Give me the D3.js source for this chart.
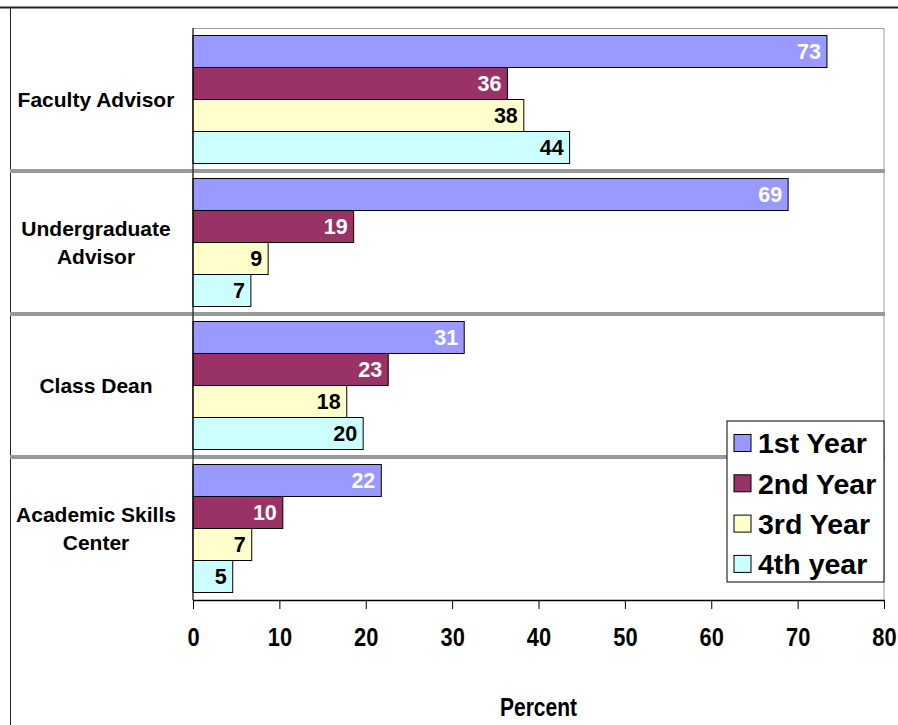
<!DOCTYPE html>
<html>
<head>
<meta charset="utf-8">
<script src="https://cdn.jsdelivr.net/npm/d3@7"></script>
<style>
  body { margin: 0; background: #fff; }
  svg { display: block; font-family: "Liberation Sans", Arial, sans-serif; font-weight: bold; }
</style>
</head>
<body>
<svg id="chart" width="898" height="725"></svg>
<script>
// data
const categories = ["Faculty Advisor", "Undergraduate Advisor", "Class Dean", "Academic Skills Center"];
const catLines = [["Faculty Advisor"], ["Undergraduate", "Advisor"], ["Class Dean"], ["Academic Skills", "Center"]];
const seriesNames = ["1st Year", "2nd Year", "3rd Year", "4th year"];
const year1 = [73.4, 68.9, 31.4, 21.8];
const year2 = [36.4, 18.6, 22.6, 10.4];
const year3 = [38.3, 8.7, 17.8, 6.8];
const year4 = [43.6, 6.7, 19.7, 4.6];
const xTicks = [0, 10, 20, 30, 40, 50, 60, 70, 80];

const colors = ["#9999ff", "#993366", "#ffffcc", "#ccffff"];
const labelColors = ["#fff", "#fff", "#000", "#000"];
const allSeries = [year1, year2, year3, year4];

const svg = d3.select("#chart");

const plotL = 193, plotR = 884, plotT = 28, plotB = 600;

const x = d3.scaleLinear().domain([0, 80]).range([plotL, plotR]);
const y = d3.scaleBand().domain(categories).range([plotT, plotB]).padding(0);
const ys = d3.scaleBand().domain(seriesNames).range([0, y.bandwidth()]).paddingInner(0).paddingOuter(0.234);

// outer frame lines
svg.append("line").attr("x1", 0).attr("x2", 898).attr("y1", 7.5).attr("y2", 7.5)
  .attr("stroke", "#222").attr("stroke-width", 2);
svg.append("line").attr("x1", 10.5).attr("x2", 10.5).attr("y1", 7).attr("y2", 725)
  .attr("stroke", "#222").attr("stroke-width", 1);

// plot area border (gray)
svg.append("rect").attr("x", plotL).attr("y", plotT + 0.5).attr("width", plotR - plotL).attr("height", plotB - plotT)
  .attr("fill", "none").attr("stroke", "#a0a0a0").attr("stroke-width", 1);

// thick separators between categories
svg.append("g").selectAll("line")
  .data(categories.slice(1))
  .join("line")
  .attr("x1", 10).attr("x2", plotR + 1)
  .attr("y1", d => y(d)).attr("y2", d => y(d))
  .attr("stroke", "#999").attr("stroke-width", 4);

// bars
const groups = svg.append("g").selectAll("g")
  .data(categories)
  .join("g")
  .attr("transform", d => `translate(0,${y(d)})`);

groups.each(function (cat, ci) {
  const g = d3.select(this);
  seriesNames.forEach((s, si) => {
    const v = allSeries[si][ci];
    g.append("rect")
      .attr("x", x(0))
      .attr("y", ys(s))
      .attr("width", x(v) - x(0))
      .attr("height", ys.bandwidth())
      .attr("fill", colors[si])
      .attr("stroke", "#000")
      .attr("stroke-width", 1);
    g.append("text")
      .attr("x", x(v) - 6)
      .attr("y", ys(s) + ys.bandwidth() / 2)
      .attr("dy", "0.36em")
      .attr("text-anchor", "end")
      .attr("font-size", 21.5)
      .attr("fill", labelColors[si])
      .text(Math.round(v));
  });
});

// category labels
svg.append("g").selectAll("text")
  .data(categories)
  .join("text")
  .attr("text-anchor", "middle")
  .attr("font-size", 21)
  .attr("fill", "#000")
  .each(function (d, i) {
    const lines = catLines[i];
    const cy = y(d) + y.bandwidth() / 2;
    const t = d3.select(this);
    lines.forEach((ln, li) => {
      t.append("tspan")
        .attr("x", 96)
        .attr("y", cy + (li - (lines.length - 1) / 2) * 28)
        .attr("dy", "0.36em")
        .text(ln);
    });
  });

// x axis
const axis = svg.append("g")
  .attr("transform", `translate(0,${plotB})`)
  .call(d3.axisBottom(x).tickValues(xTicks).tickSize(9).tickPadding(19).tickSizeOuter(0));
axis.select(".domain").attr("stroke", "#000").attr("stroke-width", 1.5);
axis.selectAll(".tick line").attr("stroke", "#000");
// narrow look: squeeze the bold digits sideways
axis.selectAll(".tick text")
  .attr("font-size", 26)
  .attr("font-weight", "bold")
  .attr("fill", "#000")
  .attr("transform", "scale(0.84,1)");

// y axis line
svg.append("line").attr("x1", plotL).attr("x2", plotL).attr("y1", plotT).attr("y2", plotB)
  .attr("stroke", "#000").attr("stroke-width", 1);

svg.append("text")
  .attr("transform", `translate(${(plotL + plotR) / 2},716) scale(0.84,1)`)
  .attr("text-anchor", "middle")
  .attr("font-size", 25)
  .text("Percent");

// legend
const legend = svg.append("g").attr("transform", "translate(727,421)");
legend.append("rect").attr("width", 157).attr("height", 161)
  .attr("fill", "#fff").attr("stroke", "#000").attr("stroke-width", 1);
const item = legend.selectAll("g")
  .data(seriesNames)
  .join("g")
  .attr("transform", (d, i) => `translate(0,${22 + i * 40.3})`);
item.append("rect")
  .attr("x", 7).attr("y", -8.5).attr("width", 17).attr("height", 17)
  .attr("fill", (d, i) => colors[i]).attr("stroke", "#000");
item.append("text")
  .attr("x", 31).attr("dy", "0.36em")
  .attr("font-size", 28.5)
  .text(d => d);
</script>
</body>
</html>
